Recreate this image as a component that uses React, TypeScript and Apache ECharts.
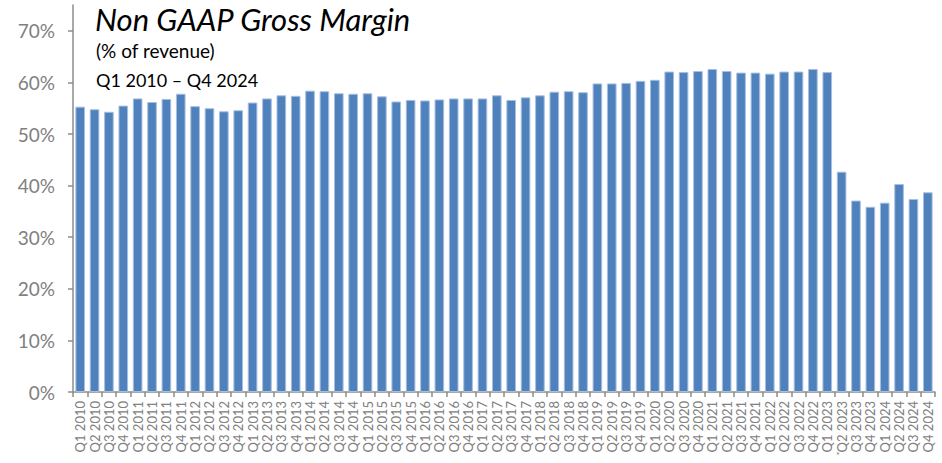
import React, { useEffect, useRef } from "react";
import * as echarts from "echarts";

const years = [2010, 2011, 2012, 2013, 2014, 2015, 2016, 2017, 2018, 2019, 2020, 2021, 2022, 2023, 2024];
const quarters = ["Q1", "Q2", "Q3", "Q4"];
const categories: string[] = [];
years.forEach((y) => quarters.forEach((q) => categories.push(`${q} ${y}`)));

const grossMargin = [
  55.3, 54.8, 54.3, 55.5,
  56.9, 56.2, 56.8, 57.8,
  55.4, 55.0, 54.4, 54.6,
  56.1, 56.9, 57.5, 57.4,
  58.4, 58.3, 57.9, 57.8,
  57.9, 57.3, 56.3, 56.6,
  56.5, 56.7, 56.9, 56.9,
  56.9, 57.5, 56.6, 57.1,
  57.5, 58.2, 58.3, 58.1,
  59.8, 59.8, 59.9, 60.3,
  60.5, 62.1, 62.0, 62.2,
  62.6, 62.2, 61.9, 61.9,
  61.7, 62.1, 62.1, 62.6,
  62.0, 42.7, 37.1, 35.9,
  36.7, 40.3, 37.4, 38.7,
];

const yTicks = [0, 10, 20, 30, 40, 50, 60, 70];

const FONT = "Lato, 'Noto Sans', sans-serif";
const AXIS_GRAY = "#8c8c8c";
const LABEL_GRAY = "#808080";

export default function App() {
  const ref = useRef<HTMLDivElement>(null);
  useEffect(() => {
    if (!ref.current) return;
    const chart = echarts.init(ref.current, undefined, { renderer: "svg" });
    chart.setOption({
      animation: false,
      grid: { left: 73, right: 7, top: 5, bottom: 71, containLabel: false },
      xAxis: {
        type: "category",
        data: categories,
        boundaryGap: true,
        axisLine: { lineStyle: { color: AXIS_GRAY, width: 1.5 } },
        axisTick: { show: true, alignWithLabel: false, length: 5, lineStyle: { color: AXIS_GRAY, width: 1.5 } },
        axisLabel: {
          interval: 0,
          rotate: 90,
          margin: 9,
          color: LABEL_GRAY,
          fontFamily: FONT,
          fontSize: 13,
        },
      },
      yAxis: {
        type: "value",
        min: 0,
        max: 75,
        interval: 10,
        splitLine: { show: false },
        axisLine: { show: true, lineStyle: { color: AXIS_GRAY, width: 1.5 } },
        axisTick: { show: true, length: 5, customValues: yTicks, lineStyle: { color: AXIS_GRAY, width: 1.5 } },
        axisLabel: {
          customValues: yTicks,
          margin: 18,
          color: LABEL_GRAY,
          fontFamily: FONT,
          fontSize: 19,
          formatter: (v: number) => `${v}%`,
        },
      },
      series: [
        {
          type: "bar",
          data: grossMargin,
          barCategoryGap: "33%",
          itemStyle: { color: "#4f81bd", borderColor: "#a7bfe0", borderWidth: 1 },
        },
      ],
      graphic: [
        {
          type: "text",
          left: 95,
          top: 3,
          style: { text: "Non GAAP Gross Margin", font: `italic 31px ${FONT}`, fill: "#000" },
        },
        {
          type: "text",
          left: 96,
          top: 41,
          style: { text: "(% of revenue)", font: `19px ${FONT}`, fill: "#000" },
        },
        {
          type: "text",
          left: 96,
          top: 71,
          style: { text: "Q1 2010 – Q4 2024", font: `18px ${FONT}`, fill: "#000" },
        },
        {
          type: "text",
          left: 836,
          top: 451,
          style: { text: "*", font: `9px ${FONT}`, fill: LABEL_GRAY },
        },
      ],
    });
    return () => chart.dispose();
  }, []);
  return (
    <div
      ref={ref}
      style={{ position: "absolute", left: 0, top: 0, width: 942, height: 463, background: "#fff" }}
    />
  );
}
